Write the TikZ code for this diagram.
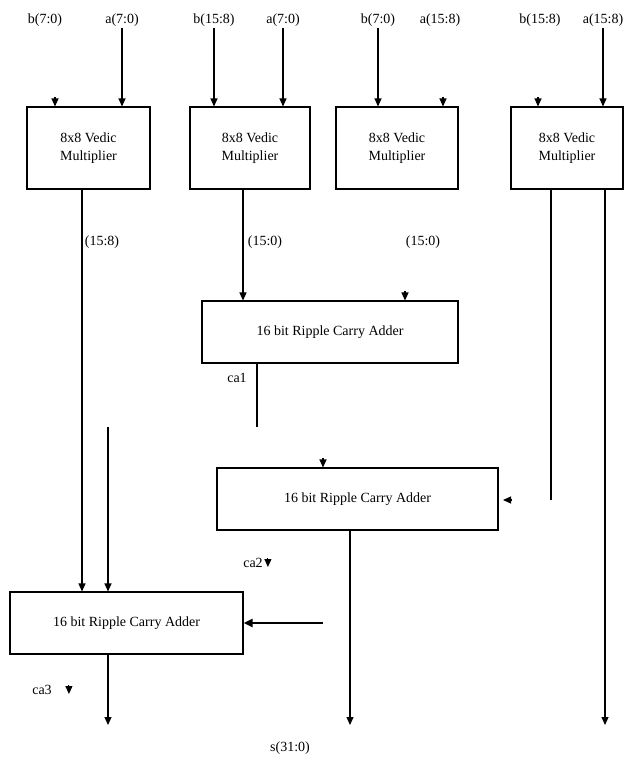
\documentclass[tikz,border=0pt]{standalone}
\usepackage{fontspec}
\setmainfont{Liberation Serif}
\usetikzlibrary{arrows.meta,positioning}

\tikzset{
    blk/.style={draw, line width=1.1pt, align=center, font=\fontsize{14}{18}\selectfont, inner sep=2pt},
    lbl/.style={font=\fontsize{14}{16}\selectfont, inner sep=1pt},
    arr/.style={line width=1.1pt, -{Triangle[length=8pt,width=7pt]}},
    tip/.style={line width=1.1pt, -{Triangle[length=8pt,width=7pt]}},
}

\begin{document}
\begin{tikzpicture}[x=1pt, y=-1pt]
        \useasboundingbox (0,0) rectangle (626,769);

        \node[lbl] (b1) at (45,20) {b(7:0)};
        \node[lbl] (a1) at (122,20) {a(7:0)};
        \node[lbl] (b2) at (214,20) {b(15:8)};
        \node[lbl] (a2) at (283,20) {a(7:0)};
        \node[lbl] (b3) at (378,20) {b(7:0)};
        \node[lbl] (a3) at (440,20) {a(15:8)};
        \node[lbl] (b4) at (540,20) {b(15:8)};
        \node[lbl] (a4) at (603,20) {a(15:8)};

        \node[blk, minimum width=123, minimum height=82] (m1) at (88.5,148) {8x8 Vedic\\ Multiplier};
        \node[blk, minimum width=120, minimum height=82] (m2) at (250,148) {8x8 Vedic\\ Multiplier};
        \node[blk, minimum width=122, minimum height=82] (m3) at (397,148) {8x8 Vedic\\ Multiplier};
        \node[blk, minimum width=112, minimum height=82] (m4) at (567,148) {8x8 Vedic\\ Multiplier};

        \node[blk, minimum width=256, minimum height=62] (r1) at (330,332) {16 bit Ripple Carry Adder};
        \node[blk, minimum width=281, minimum height=62] (r2) at (357.5,499) {16 bit Ripple Carry Adder};
        \node[blk, minimum width=233, minimum height=62] (r3) at (126.5,623) {16 bit Ripple Carry Adder};

        \node[lbl] (o1) at (102,242) {(15:8)};
        \node[lbl] (o2) at (265,242) {(15:0)};
        \node[lbl] (o3) at (423,242) {(15:0)};
        \node[lbl] (c1) at (237,378) {ca1};
        \node[lbl] (c2) at (253,563) {ca2};
        \node[lbl] (c3) at (42,690) {ca3};
        \node[lbl] (s) at (290,748) {s(31:0)};

        \coordinate (t1) at (55,97);
        \coordinate (t3) at (443,97);
        \coordinate (t4) at (538,97);
        \coordinate (t5) at (405,291);
        \coordinate (t6) at (323,458);
        \coordinate (t7) at (512,500);
        \coordinate (k2) at (c2.east);
        \coordinate (k3) at (c3.east);
        \coordinate (p1) at (108,427);
        \coordinate (p2) at (257,427);
        \coordinate (p3) at (323,623);
        \coordinate (p4) at (551,500);

        \draw[arr] (a1.south) -- (a1.south |- m1.north);
        \draw[arr] (b2.south) -- (b2.south |- m2.north);
        \draw[arr] (a2.south) -- (a2.south |- m2.north);
        \draw[arr] (b3.south) -- (b3.south |- m3.north);
        \draw[arr] (a4.south) -- (a4.south |- m4.north);

        \draw[tip] (t1) -- (t1 |- m1.north);
        \draw[tip] (t3) -- (t3 |- m3.north);
        \draw[tip] (t4) -- (t4 |- m4.north);
        \draw[tip] (t5) -- (t5 |- r1.north);
        \draw[tip] (t6) -- (t6 |- r2.north);
        \draw[tip] (t7) -- ++(-9,0);
        \draw[tip] ([xshift=4,yshift=5]k2) -- ++(0,9);
        \draw[tip] ([xshift=16,yshift=5]k3) -- ++(0,9);

        \draw[arr] (82,0 |- m1.south) -- (82,0 |- r3.north);
        \draw[arr] (243,0 |- m2.south) -- (243,0 |- r1.north);
        \draw[line width=1.1pt] (p2 |- r1.south) -- (p2);
        \draw[arr] (p1) -- (p1 |- r3.north);
        \draw[line width=1.1pt] (p4 |- m4.south) -- (p4);
        \draw[arr] (605,0 |- m4.south) -- (605,725);
        \draw[arr] (350,0 |- r2.south) -- (350,725);
        \draw[arr] (108,0 |- r3.south) -- (108,725);
        \draw[line width=2.4pt, -{Triangle[length=9pt,width=8pt]}] (p3) -- (p3 -| r3.east);
\end{tikzpicture}
\end{document}
